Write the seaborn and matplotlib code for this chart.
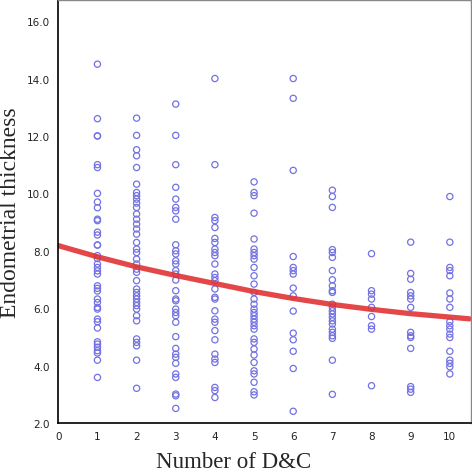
import numpy as np
import pandas as pd
import seaborn as sns
import matplotlib.pyplot as plt

# endometrial thickness, one list per number of D&C
col1 = [14.5, 12.6, 12.0, 12.0, 11.0, 10.9, 10.0, 9.7, 9.5, 9.1, 9.05, 8.65, 8.55, 8.2, 8.2,
        7.83, 7.73, 7.54, 7.42, 7.3, 7.19, 6.78, 6.69, 6.6, 6.32, 6.2, 6.03, 5.97, 5.62, 5.53,
        5.31, 4.83, 4.75, 4.64, 4.52, 4.44, 4.19, 3.59]
col2 = [12.62, 12.02, 11.52, 11.31, 10.9, 10.32, 10.03, 9.92, 9.8, 9.66, 9.51, 9.28, 9.1,
        8.93, 8.76, 8.58, 8.29, 8.06, 7.94, 7.71, 7.54, 7.36, 7.25, 6.96, 6.67, 6.55, 6.43,
        6.32, 6.2, 6.09, 5.97, 5.74, 5.56, 4.93, 4.81, 4.69, 4.19, 3.21]
col3 = [13.11, 12.02, 11.0, 10.21, 9.8, 9.51, 9.39, 9.1, 8.21, 8.0, 7.89, 7.65, 7.54, 7.31,
        7.19, 6.98, 6.61, 6.32, 6.26, 5.97, 5.85, 5.74, 5.51, 5.01, 4.6, 4.4, 4.29, 4.08,
        3.71, 3.59, 3.01, 2.95, 2.51]
col4 = [14.0, 11.0, 9.16, 9.05, 8.81, 8.43, 8.29, 8.06, 7.94, 7.83, 7.54, 7.19, 7.07, 6.96,
        6.67, 6.38, 6.32, 5.91, 5.62, 5.51, 5.22, 4.9, 4.4, 4.23, 4.11, 3.24, 3.13, 2.89]
col5 = [10.4, 10.03, 9.92, 9.31, 8.41, 8.06, 7.94, 7.83, 7.71, 7.42, 7.13, 6.84, 6.55, 6.32,
        6.14, 5.97, 5.85, 5.74, 5.62, 5.51, 5.39, 5.27, 4.93, 4.81, 4.58, 4.37, 4.11, 3.82,
        3.71, 3.42, 3.09, 2.98]
col6 = [14.0, 13.31, 10.8, 7.8, 7.42, 7.31, 7.19, 6.7, 6.43, 5.9, 5.13, 4.9, 4.5, 3.9, 2.41]
col7 = [10.11, 9.89, 9.51, 8.04, 7.94, 7.77, 7.31, 6.99, 6.78, 6.61, 6.55, 6.14, 6.03, 5.91,
        5.8, 5.68, 5.56, 5.45, 5.27, 5.16, 5.04, 4.95, 4.19, 3.0]
col8 = [7.9, 6.61, 6.49, 6.32, 6.03, 5.71, 5.39, 5.27, 3.3]
col9 = [8.3, 7.21, 7.01, 6.55, 6.43, 6.32, 6.03, 5.16, 5.04, 4.98, 4.6, 3.27, 3.18, 3.07]
col10 = [9.89, 8.3, 7.42, 7.31, 7.13, 6.53, 6.32, 6.03, 5.53, 5.39, 5.27, 5.1, 4.98, 4.5,
         4.19, 4.08, 3.96, 3.71]
columns = [col1, col2, col3, col4, col5, col6, col7, col8, col9, col10]

# fitted curve, read at each x
fit_x = [0, 1, 2, 3, 4, 5, 6, 7, 8, 9, 10, 10.5]
fit_y = [8.18, 7.79, 7.44, 7.14, 6.86, 6.58, 6.34, 6.13, 5.96, 5.81, 5.69, 5.63]

dc, thick = [], []
for n, col in enumerate(columns, start=1):
    dc += [n] * len(col)
    thick += col
df = pd.DataFrame({'Number of D&C': dc, 'Endometrial thickness': thick})

sns.set_style('white')
plt.rcParams['font.family'] = ['DejaVu Sans']

fig, ax = plt.subplots(figsize=(4.72, 4.77), dpi=100)
fig.subplots_adjust(left=0.1235, right=0.997, bottom=0.111, top=0.997)

sns.scatterplot(data=df, x='Number of D&C', y='Endometrial thickness', ax=ax,
                marker='o', s=20, facecolor='none', edgecolor='#7272e2', linewidth=0.9)
sns.lineplot(x=fit_x, y=fit_y, ax=ax, color='#e03333', linewidth=3.8, alpha=0.9)

ax.set_xlim(0, 10.53)
ax.set_ylim(2, 16.72)
ax.set_xticks(range(0, 11))
ax.set_yticks(np.arange(2, 17, 2))
ax.set_yticklabels(['{:.1f}'.format(v) for v in np.arange(2, 17, 2)])
ax.tick_params(direction='out', length=5, width=1, labelsize=7.5, pad=1, colors='#222222')

for s in ['left', 'bottom']:
    ax.spines[s].set_color('black')
    ax.spines[s].set_linewidth(1.2)
for s in ['top', 'right']:
    ax.spines[s].set_color('#888888')
    ax.spines[s].set_linewidth(1.0)

ax.set_xlabel('Number of D&C', fontsize=16.5, family='Liberation Serif')
ax.xaxis.set_label_coords(0.426, -0.066)
ax.set_ylabel('Endometrial thickness', fontsize=17, family='Liberation Serif', labelpad=4)

plt.savefig('out.png', dpi=100)
